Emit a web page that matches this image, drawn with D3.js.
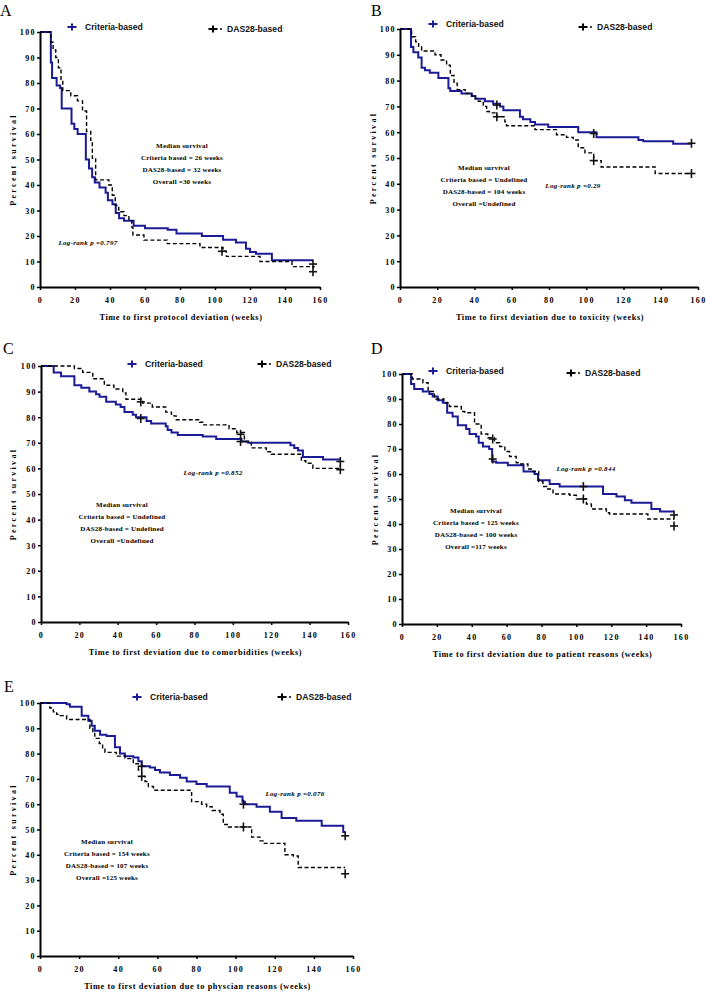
<!DOCTYPE html>
<html>
<head>
<meta charset="utf-8">
<script src="https://cdn.jsdelivr.net/npm/d3@7"></script>
<style>
  html, body { margin: 0; padding: 0; background: #fff; }
  svg { display: block; }
</style>
</head>
<body>
<svg id="chart" width="706" height="992"></svg>
<script>
// ---------------- DATA ----------------
const seriesNames = ["Criteria-based", "DAS28-based"];
const xTicks = [0, 20, 40, 60, 80, 100, 120, 140, 160];
const yTicks = [0, 10, 20, 30, 40, 50, 60, 70, 80, 90, 100];

// Panel A – first protocol deviation
const aCriteria = [[0,100],[6.2,88],[6.9,82],[9.5,79],[11.5,78],[12.4,70],[18,64],[19.6,62],[21.5,60],[26.2,50],[28,46.5],[29.8,43],[31.3,41],[34,39],[37.5,37],[38.8,34],[41.4,32.5],[43.3,29],[45.2,27],[48,26],[53.5,24],[60,23],[73,22.5],[78,21],[92.5,20],[104.6,18.5],[112,17.5],[117.7,15],[120,13.7],[123.4,13],[132.5,10.5],[156,10.5]];
const aDas28 = [[0,100],[6.2,96],[7.5,93],[9,90],[10.5,86],[12,81],[13,77],[17.6,75],[21.4,73],[24.3,69],[26.6,61],[29,57.5],[29.9,50.5],[31.8,42],[39.4,40],[41.3,36],[43,32],[45,29.5],[48,28],[50.8,26],[52.4,23.5],[53.1,20.4],[59.4,18.4],[72.7,17],[91.4,15.5],[104.6,14],[106.5,12],[125.7,10],[144,8],[157,8]];
const aCensCriteria = [[156,9]];
const aCensDas28 = [[104,14],[156,6]];
const aMedian = ["Median survival", "Criteria based = 26 weeks", "DAS28-based = 32 weeks", "Overall =30 weeks"];
const aLogRank = "Log-rank p =0.797";

// Panel B – toxicity
const bCriteria = [[0,100],[5.9,93],[7.2,91],[9.8,89],[11.6,85],[13.4,84],[16,83],[20.6,81],[26,77],[27,76],[33,75],[38.5,74],[40.5,73],[45.6,72],[50,71],[53.7,70],[55.5,68.5],[64.4,66],[66,65],[70,64],[72.5,63],[79.6,62],[95.7,60],[105.5,58],[128,57],[130.6,56.5],[146.7,55.5],[156.5,55.5]];
const bDas28 = [[0,100],[6.2,97],[8.4,95],[10,93],[11.6,91.5],[18.8,90],[22,88],[25,86],[27,82],[29,79],[30.7,76.5],[35,75],[38.5,74],[40.5,73],[42,72],[44.7,70],[46.5,68],[48,67.5],[52,66],[56.3,64],[57.2,62.5],[72.5,61],[84,59],[89.4,58],[93,57],[95.7,54],[99.3,52],[104,49],[108,46.5],[137,44],[156.5,44]];
const bCensCriteria = [[52,70.5],[104,59.5],[156.5,55.7]];
const bCensDas28 = [[52,66],[104,49],[156.5,44]];
const bMedian = ["Median survival", "Criteria based = Undefined", "DAS28-based = 104 weeks", "Overall =Undefined"];
const bLogRank = "Log-rank p =0.29";

// Panel C – comorbidities
const cCriteria = [[0,100],[6.6,97.5],[10.4,96],[17.4,92.5],[21,91.5],[25.2,90],[28.7,89],[30.5,88],[34,86],[39,85],[41.5,84],[43.5,82],[47.8,81],[49.5,80],[55,78.5],[57.4,77.5],[65,76.5],[66,75],[68,74],[71.3,73],[84.3,72.5],[91.3,71.5],[104.5,70.5],[108,70],[130,69],[132,68],[134,67],[136.5,64.5],[147,63.5],[156,63.5]];
const cDas28 = [[0,100],[17.4,99],[21.7,97.5],[27,95],[33,92.5],[38,91],[42.6,89.5],[44.3,87],[53,85.5],[58,84],[65,82],[68,80.5],[70.4,79],[82.6,78],[84.3,77],[98,75.5],[102,74],[106,70.5],[109.6,68],[117.4,66.5],[120,65.5],[135.7,63],[138,62],[141.7,60],[156,60]];
const cCensCriteria = [[52,79.5],[104,70.5],[156,62.7]];
const cCensDas28 = [[52,86],[104,73.3],[156,59.5]];
const cMedian = ["Median survival", "Criteria based = Undefined", "DAS28-based = Undefined", "Overall =Undefined"];
const cLogRank = "Log-rank p =0.852";

// Panel D – patient reasons
const dCriteria = [[0,100],[5.2,96],[7,94],[11.9,93],[15.7,92],[17.6,91],[20.5,89.5],[23.4,88.5],[25.9,84.5],[29,83],[32,79.5],[36.8,78],[38.7,76],[42.5,75],[44,72.5],[46.4,71],[50,70],[51.7,65],[54,64.5],[60.7,63.5],[69.7,61],[76,60],[78,57.5],[84.7,56],[90.4,55],[115.3,52],[123,51],[127.8,49.5],[131.6,48.5],[143,46],[148,45],[156,45]];
const dDas28 = [[0,100],[6,98],[12,96.5],[15,93],[18.6,90],[24,88.5],[27.2,87],[34,85],[36,84.5],[41.6,80],[45.4,76],[49.2,74.5],[53,72.5],[56,71],[59,69],[61.7,67],[65.5,64.5],[67.5,64],[72.2,62],[75,61],[78.4,57],[80.8,55],[83,54],[86.6,52],[96.2,51.5],[100,50],[105.7,48],[108.6,46],[117.2,44.5],[119,44],[141,42],[156,42]];
const dCensCriteria = [[52,66],[104,55],[156,43.6]];
const dCensDas28 = [[52,74],[104,50],[156,39.2]];
const dMedian = ["Median survival", "Criteria based = 125 weeks", "DAS28-based = 100 weeks", "Overall =117 weeks"];
const dLogRank = "Log-rank p =0.844";

// Panel E – physician reasons
const eCriteria = [[0,100],[13.6,99.5],[15.3,98.5],[21.3,95],[24.7,93],[26.4,91],[28,89],[30.7,87.5],[34,87],[38.3,82.5],[40.9,80],[43.4,79],[47.7,78.5],[50.3,77],[52,75],[56.2,74.5],[58.8,73.5],[61.3,72.5],[66.4,71.5],[71.6,70.5],[75,69],[80,68],[85.2,67],[97,64.5],[100.5,63],[103.5,61],[104.8,60],[110.7,59],[117.5,57],[123.5,54.5],[131,53.5],[144,51.5],[155,49],[156,49]];
const eDas28 = [[0,100],[5,98],[6.8,96.5],[8.5,95.5],[10.2,95],[13.6,93.5],[25.5,90],[27,88],[28,86],[30.3,84],[32,82],[33.2,80.5],[39,79],[43.4,78],[47.7,76],[50.3,73.5],[52,71],[53.7,69],[55.4,67],[58,65.5],[77.5,61],[82.6,60],[85.2,59],[88,57.5],[92,56],[93.7,52],[96.3,51],[108.2,47],[112.4,45.5],[114,44.5],[125.2,40],[129.5,39.5],[132,35],[156,35]];
const eCensCriteria = [[52,75],[104,60],[156,47.5]];
const eCensDas28 = [[52,71],[104,51],[156,32.5]];
const eMedian = ["Median survival", "Criteria based = 154 weeks", "DAS28-based = 107 weeks", "Overall =125 weeks"];
const eLogRank = "Log-rank p =0.076";

const xTitles = [
  "Time to first protocol deviation (weeks)",
  "Time to first deviation due to toxicity (weeks)",
  "Time to first deviation due to comorbidities (weeks)",
  "Time to first deviation due to patient reasons (weeks)",
  "Time to first deviation due to physcian reasons (weeks)"
];
const yTitle = "Percent survival";
const panelLetters = ["A", "B", "C", "D", "E"];

// ---------------- LAYOUT ----------------
const panels = [
  { crit: aCriteria, das: aDas28, cc: aCensCriteria, cd: aCensDas28, med: aMedian, lr: aLogRank,
    x0: 40, x1: 320, yT: 32, yB: 287, letter: [0, 16], ytx: 13,
    legC: [72, 27], legD: [213, 29], medXY: [182, 146], lrXY: [88, 243] },
  { crit: bCriteria, das: bDas28, cc: bCensCriteria, cd: bCensDas28, med: bMedian, lr: bLogRank,
    x0: 400, x1: 698, yT: 29, yB: 287, letter: [371, 16], ytx: 373,
    legC: [433, 24], legD: [583, 27], medXY: [484, 168], lrXY: [573, 186] },
  { crit: cCriteria, das: cDas28, cc: cCensCriteria, cd: cCensDas28, med: cMedian, lr: cLogRank,
    x0: 41, x1: 348, yT: 366, yB: 622, letter: [3, 354], ytx: 13,
    legC: [132, 364], legD: [262, 364], medXY: [122, 505], lrXY: [213, 473] },
  { crit: dCriteria, das: dDas28, cc: dCensCriteria, cd: dCensDas28, med: dMedian, lr: dLogRank,
    x0: 402, x1: 681, yT: 374, yB: 624, letter: [371, 354], ytx: 375,
    legC: [433, 371], legD: [571, 373], medXY: [476, 511], lrXY: [586, 469] },
  { crit: eCriteria, das: eDas28, cc: eCensCriteria, cd: eCensDas28, med: eMedian, lr: eLogRank,
    x0: 40, x1: 353, yT: 703, yB: 956, letter: [4, 692], ytx: 13,
    legC: [137, 697], legD: [282, 697], medXY: [107, 842], lrXY: [295, 794] }
];

const BLUE = "#1b1b95";
const serif = "'Liberation Serif', 'Times New Roman', serif";
const sans = "'Liberation Sans', Arial, sans-serif";

const svg = d3.select("#chart");

function plus(g, cx, cy, w, h, color, sw) {
  g.append("line").attr("x1", cx - w / 2).attr("x2", cx + w / 2).attr("y1", cy).attr("y2", cy)
    .attr("stroke", color).attr("stroke-width", sw);
  g.append("line").attr("x1", cx).attr("x2", cx).attr("y1", cy - h / 2).attr("y2", cy + h / 2)
    .attr("stroke", color).attr("stroke-width", sw);
}

panels.forEach((p, i) => {
  const g = svg.append("g");
  const x = d3.scaleLinear().domain([0, 160]).range([p.x0, p.x1]);
  const y = d3.scaleLinear().domain([0, 100]).range([p.yB, p.yT]);

  // panel letter
  g.append("text").attr("x", p.letter[0]).attr("y", p.letter[1])
    .attr("font-family", serif).attr("font-size", 16).attr("fill", "#000")
    .text(panelLetters[i]);

  // axes
  const xa = g.append("g").attr("transform", `translate(0,${p.yB})`)
    .call(d3.axisBottom(x).tickValues(xTicks).tickSize(3).tickSizeOuter(0));
  const ya = g.append("g").attr("transform", `translate(${p.x0},0)`)
    .call(d3.axisLeft(y).tickValues(yTicks).tickSize(3).tickSizeOuter(0));
  [xa, ya].forEach(a => {
    a.select(".domain").attr("stroke", "#000").attr("stroke-width", 2);
    a.selectAll(".tick line").attr("stroke", "#000").attr("stroke-width", 1.5);
    a.selectAll(".tick text").attr("font-family", serif).attr("font-weight", "bold")
      .attr("font-size", 8).attr("letter-spacing", 1.4).attr("fill", "#000");
  });
  xa.selectAll(".tick text").attr("dy", "0").attr("y", 16);
  ya.selectAll(".tick text").attr("x", -4).attr("dy", "0.35em");

  // axis titles
  g.append("text").attr("x", (p.x0 + p.x1) / 2 + 1).attr("y", p.yB + 33)
    .attr("text-anchor", "middle").attr("font-family", serif).attr("font-weight", "bold")
    .attr("font-size", 8.3).attr("letter-spacing", 0.6).text(xTitles[i]);
  g.append("text").attr("transform", `translate(${p.ytx},${(p.yT + p.yB) / 2}) rotate(-90)`)
    .attr("text-anchor", "middle").attr("font-family", serif).attr("font-weight", "bold")
    .attr("font-size", 8).attr("letter-spacing", 2.3).attr("dy", "0.35em").text(yTitle);

  // curves
  const line = d3.line().x(d => x(d[0])).y(d => y(d[1])).curve(d3.curveStepAfter);
  g.append("path").datum(p.crit).attr("d", line).attr("fill", "none")
    .attr("stroke", BLUE).attr("stroke-width", 2);
  g.append("path").datum(p.das).attr("d", line).attr("fill", "none")
    .attr("stroke", "#000").attr("stroke-width", 1.4).attr("stroke-dasharray", "4,2.5");

  // censor marks
  p.cc.forEach(d => plus(g, x(d[0]), y(d[1]), 8, 9, "#111", 1.6));
  p.cd.forEach(d => plus(g, x(d[0]), y(d[1]), 8, 9, "#111", 1.6));

  // legend
  plus(g, p.legC[0], p.legC[1], 9, 7, BLUE, 2);
  g.append("text").attr("x", p.legC[0] + 13).attr("y", p.legC[1]).attr("dy", "0.35em")
    .attr("font-family", sans).attr("font-weight", "bold").attr("font-size", 8.6)
    .attr("fill", "#111").text(seriesNames[0]);
  plus(g, p.legD[0], p.legD[1], 9, 7, "#000", 2);
  g.append("line").attr("x1", p.legD[0] + 7).attr("x2", p.legD[0] + 9)
    .attr("y1", p.legD[1]).attr("y2", p.legD[1]).attr("stroke", "#000").attr("stroke-width", 1.5);
  g.append("text").attr("x", p.legD[0] + 14).attr("y", p.legD[1]).attr("dy", "0.35em")
    .attr("font-family", sans).attr("font-weight", "bold").attr("font-size", 8.6)
    .attr("fill", "#111").text(seriesNames[1]);

  // median survival block
  g.append("g").selectAll("text").data(p.med).join("text")
    .attr("x", p.medXY[0]).attr("y", (d, k) => p.medXY[1] + k * 12).attr("dy", "0.35em")
    .attr("text-anchor", "middle").attr("font-family", serif).attr("font-weight", "bold")
    .attr("font-size", 7).attr("letter-spacing", 0.2).text(d => d);

  // log-rank
  g.append("text").attr("x", p.lrXY[0]).attr("y", p.lrXY[1]).attr("dy", "0.35em")
    .attr("text-anchor", "middle").attr("font-family", serif).attr("font-weight", "bold")
    .attr("font-style", "italic").attr("font-size", 7).attr("letter-spacing", 0.3).text(p.lr);
});
</script>
</body>
</html>
